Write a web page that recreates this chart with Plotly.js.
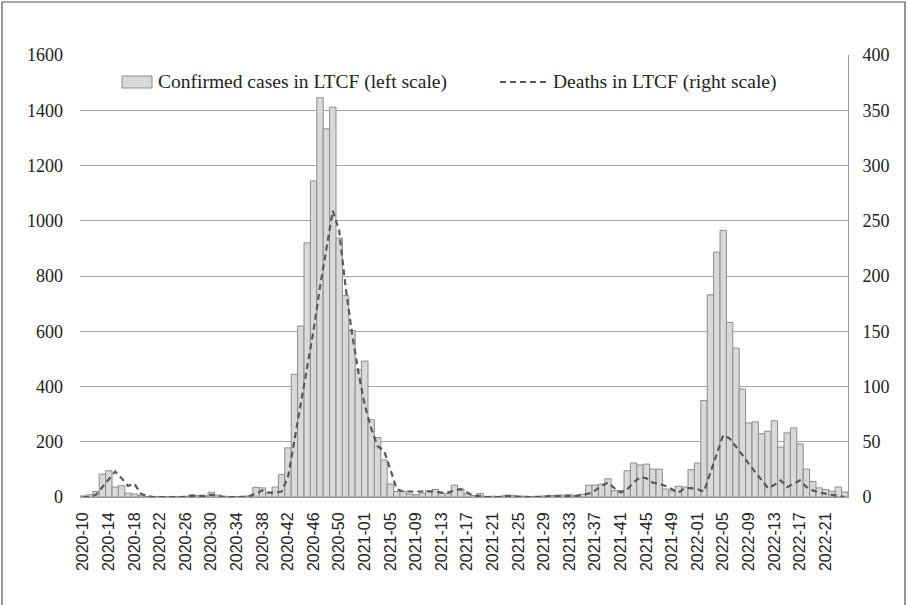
<!DOCTYPE html>
<html>
<head>
<meta charset="utf-8">
<script src="https://cdn.plot.ly/plotly-3.0.1.min.js"></script>
<style>html,body{margin:0;padding:0;background:#fff;}#chart{width:908px;height:605px;}</style>
</head>
<body>
<div id="chart"></div>
<script>
// ISO weeks 2020-10 .. 2022-24
const weeks2020 = ["2020-10","2020-11","2020-12","2020-13","2020-14","2020-15","2020-16","2020-17","2020-18","2020-19","2020-20","2020-21","2020-22","2020-23","2020-24","2020-25","2020-26","2020-27","2020-28","2020-29","2020-30","2020-31","2020-32","2020-33","2020-34","2020-35","2020-36","2020-37","2020-38","2020-39","2020-40","2020-41","2020-42","2020-43","2020-44","2020-45","2020-46","2020-47","2020-48","2020-49","2020-50","2020-51","2020-52","2020-53"];
const weeks2021 = ["2021-01","2021-02","2021-03","2021-04","2021-05","2021-06","2021-07","2021-08","2021-09","2021-10","2021-11","2021-12","2021-13","2021-14","2021-15","2021-16","2021-17","2021-18","2021-19","2021-20","2021-21","2021-22","2021-23","2021-24","2021-25","2021-26","2021-27","2021-28","2021-29","2021-30","2021-31","2021-32","2021-33","2021-34","2021-35","2021-36","2021-37","2021-38","2021-39","2021-40","2021-41","2021-42","2021-43","2021-44","2021-45","2021-46","2021-47","2021-48","2021-49","2021-50","2021-51","2021-52"];
const weeks2022 = ["2022-01","2022-02","2022-03","2022-04","2022-05","2022-06","2022-07","2022-08","2022-09","2022-10","2022-11","2022-12","2022-13","2022-14","2022-15","2022-16","2022-17","2022-18","2022-19","2022-20","2022-21","2022-22","2022-23","2022-24"];

const cases2020 = [4,8,20,83,95,36,41,14,11,5,2,1,2,1,2,2,3,8,5,4,17,7,3,2,2,3,4,35,33,14,36,82,178,444,619,920,1144,1445,1333,1411,937,729,603,461];
const cases2021 = [492,280,215,134,47,20,20,11,8,14,23,27,14,12,43,29,11,5,13,2,3,2,5,6,4,3,2,3,4,6,5,7,8,5,10,43,43,47,66,23,23,95,123,116,119,101,101,29,22,39,36,99];
const cases2022 = [123,349,732,886,965,632,539,391,268,272,229,238,276,181,232,250,192,101,56,33,27,21,36,18];

const deaths2020 = [0,0,2,9,17,23,17,10,12,3,1,0,0,0,0,0,0,1,1,1,2,1,0,0,0,0,1,3,6,4,4,5,18,51,83,115,151,190,226,259,241,190,148,113];
const deaths2021 = [83,62,46,42,25,7,5,5,5,5,5,5,4,4,6,7,4,1,1,0,0,0,1,1,0,0,0,0,0,1,1,1,1,1,2,3,6,10,13,8,4,7,13,18,17,13,12,10,7,4,8,8];
const deaths2022 = [7,5,22,40,56,53,46,38,30,23,16,8,11,15,9,12,15,9,6,4,3,2,1,0];

const leftTicks = [0,200,400,600,800,1000,1200,1400,1600];
const rightTicks = [0,50,100,150,200,250,300,350,400];
const seriesNames = ["Confirmed cases in LTCF (left scale)", "Deaths in LTCF (right scale)"];

const weeks = weeks2020.concat(weeks2021, weeks2022);
const cases = cases2020.concat(cases2021, cases2022);
const deaths = deaths2020.concat(deaths2021, deaths2022);
const tickWeeks = weeks.filter((w, i) => i % 4 === 0);

const L = 80, R = 848, T = 55, B = 497;
const px = x => (x - L) / (R - L);
const py = y => (B - y) / (B - T);

const traces = [
  {
    type: "bar", x: weeks, y: cases, name: seriesNames[0], yaxis: "y",
    marker: {color: "#d9d9d9", line: {color: "#8c8c8c", width: 1}},
    showlegend: false, hoverinfo: "x+y"
  },
  {
    type: "scatter", mode: "lines", x: weeks, y: deaths, name: seriesNames[1], yaxis: "y2",
    line: {color: "#595959", width: 2.2, dash: "6px,4px"},
    showlegend: false, hoverinfo: "x+y"
  }
];

const serif = "Liberation Serif, Times New Roman, serif";

const layout = {
  width: 908, height: 605,
  margin: {l: L, r: 908 - R, t: T, b: 605 - B},
  paper_bgcolor: "#ffffff", plot_bgcolor: "#ffffff",
  bargap: 0,
  showlegend: false,
  xaxis: {
    type: "category",
    tickmode: "array", tickvals: tickWeeks, ticktext: tickWeeks,
    tickangle: -90,
    tickfont: {family: "Liberation Sans, Arial, sans-serif", size: 16, color: "#222"},
    ticks: "", ticklabelstandoff: 8,
    showline: true, linecolor: "#9a9a9a", linewidth: 1,
    showgrid: false, zeroline: false,
    range: [-0.5, weeks.length - 0.5]
  },
  yaxis: {
    range: [0, 1600], tickmode: "array", tickvals: leftTicks,
    tickfont: {family: serif, size: 18, color: "#222"},
    showgrid: true, gridcolor: "#a6a6a6", gridwidth: 1,
    zeroline: false, showline: false, ticks: "", ticklabelstandoff: 16
  },
  yaxis2: {
    overlaying: "y", side: "right",
    range: [0, 400], tickmode: "array", tickvals: rightTicks,
    tickfont: {family: serif, size: 18, color: "#222"},
    showgrid: false, zeroline: false,
    showline: true, linecolor: "#9a9a9a", linewidth: 1,
    ticks: "", ticklabelstandoff: 10
  },
  shapes: [
    {type: "rect", xref: "paper", yref: "paper",
     x0: px(2), x1: px(905), y0: py(610), y1: py(2),
     line: {color: "#555555", width: 1.2}, fillcolor: "rgba(0,0,0,0)"},
    {type: "rect", xref: "paper", yref: "paper",
     x0: px(122), x1: px(152), y0: py(88), y1: py(76),
     line: {color: "#8c8c8c", width: 1}, fillcolor: "#d9d9d9"},
    {type: "line", xref: "paper", yref: "paper",
     x0: px(500), x1: px(546), y0: py(82), y1: py(82),
     line: {color: "#595959", width: 2.2, dash: "6px,4px"}}
  ],
  annotations: [
    {xref: "paper", yref: "paper", x: px(156), y: py(82), xanchor: "left", yanchor: "middle",
     text: seriesNames[0], showarrow: false, font: {family: serif, size: 19.5, color: "#222"}},
    {xref: "paper", yref: "paper", x: px(551), y: py(82), xanchor: "left", yanchor: "middle",
     text: seriesNames[1], showarrow: false, font: {family: serif, size: 19.5, color: "#222"}}
  ]
};

Plotly.newPlot("chart", traces, layout, {displayModeBar: false, staticPlot: true});
</script>
</body>
</html>
